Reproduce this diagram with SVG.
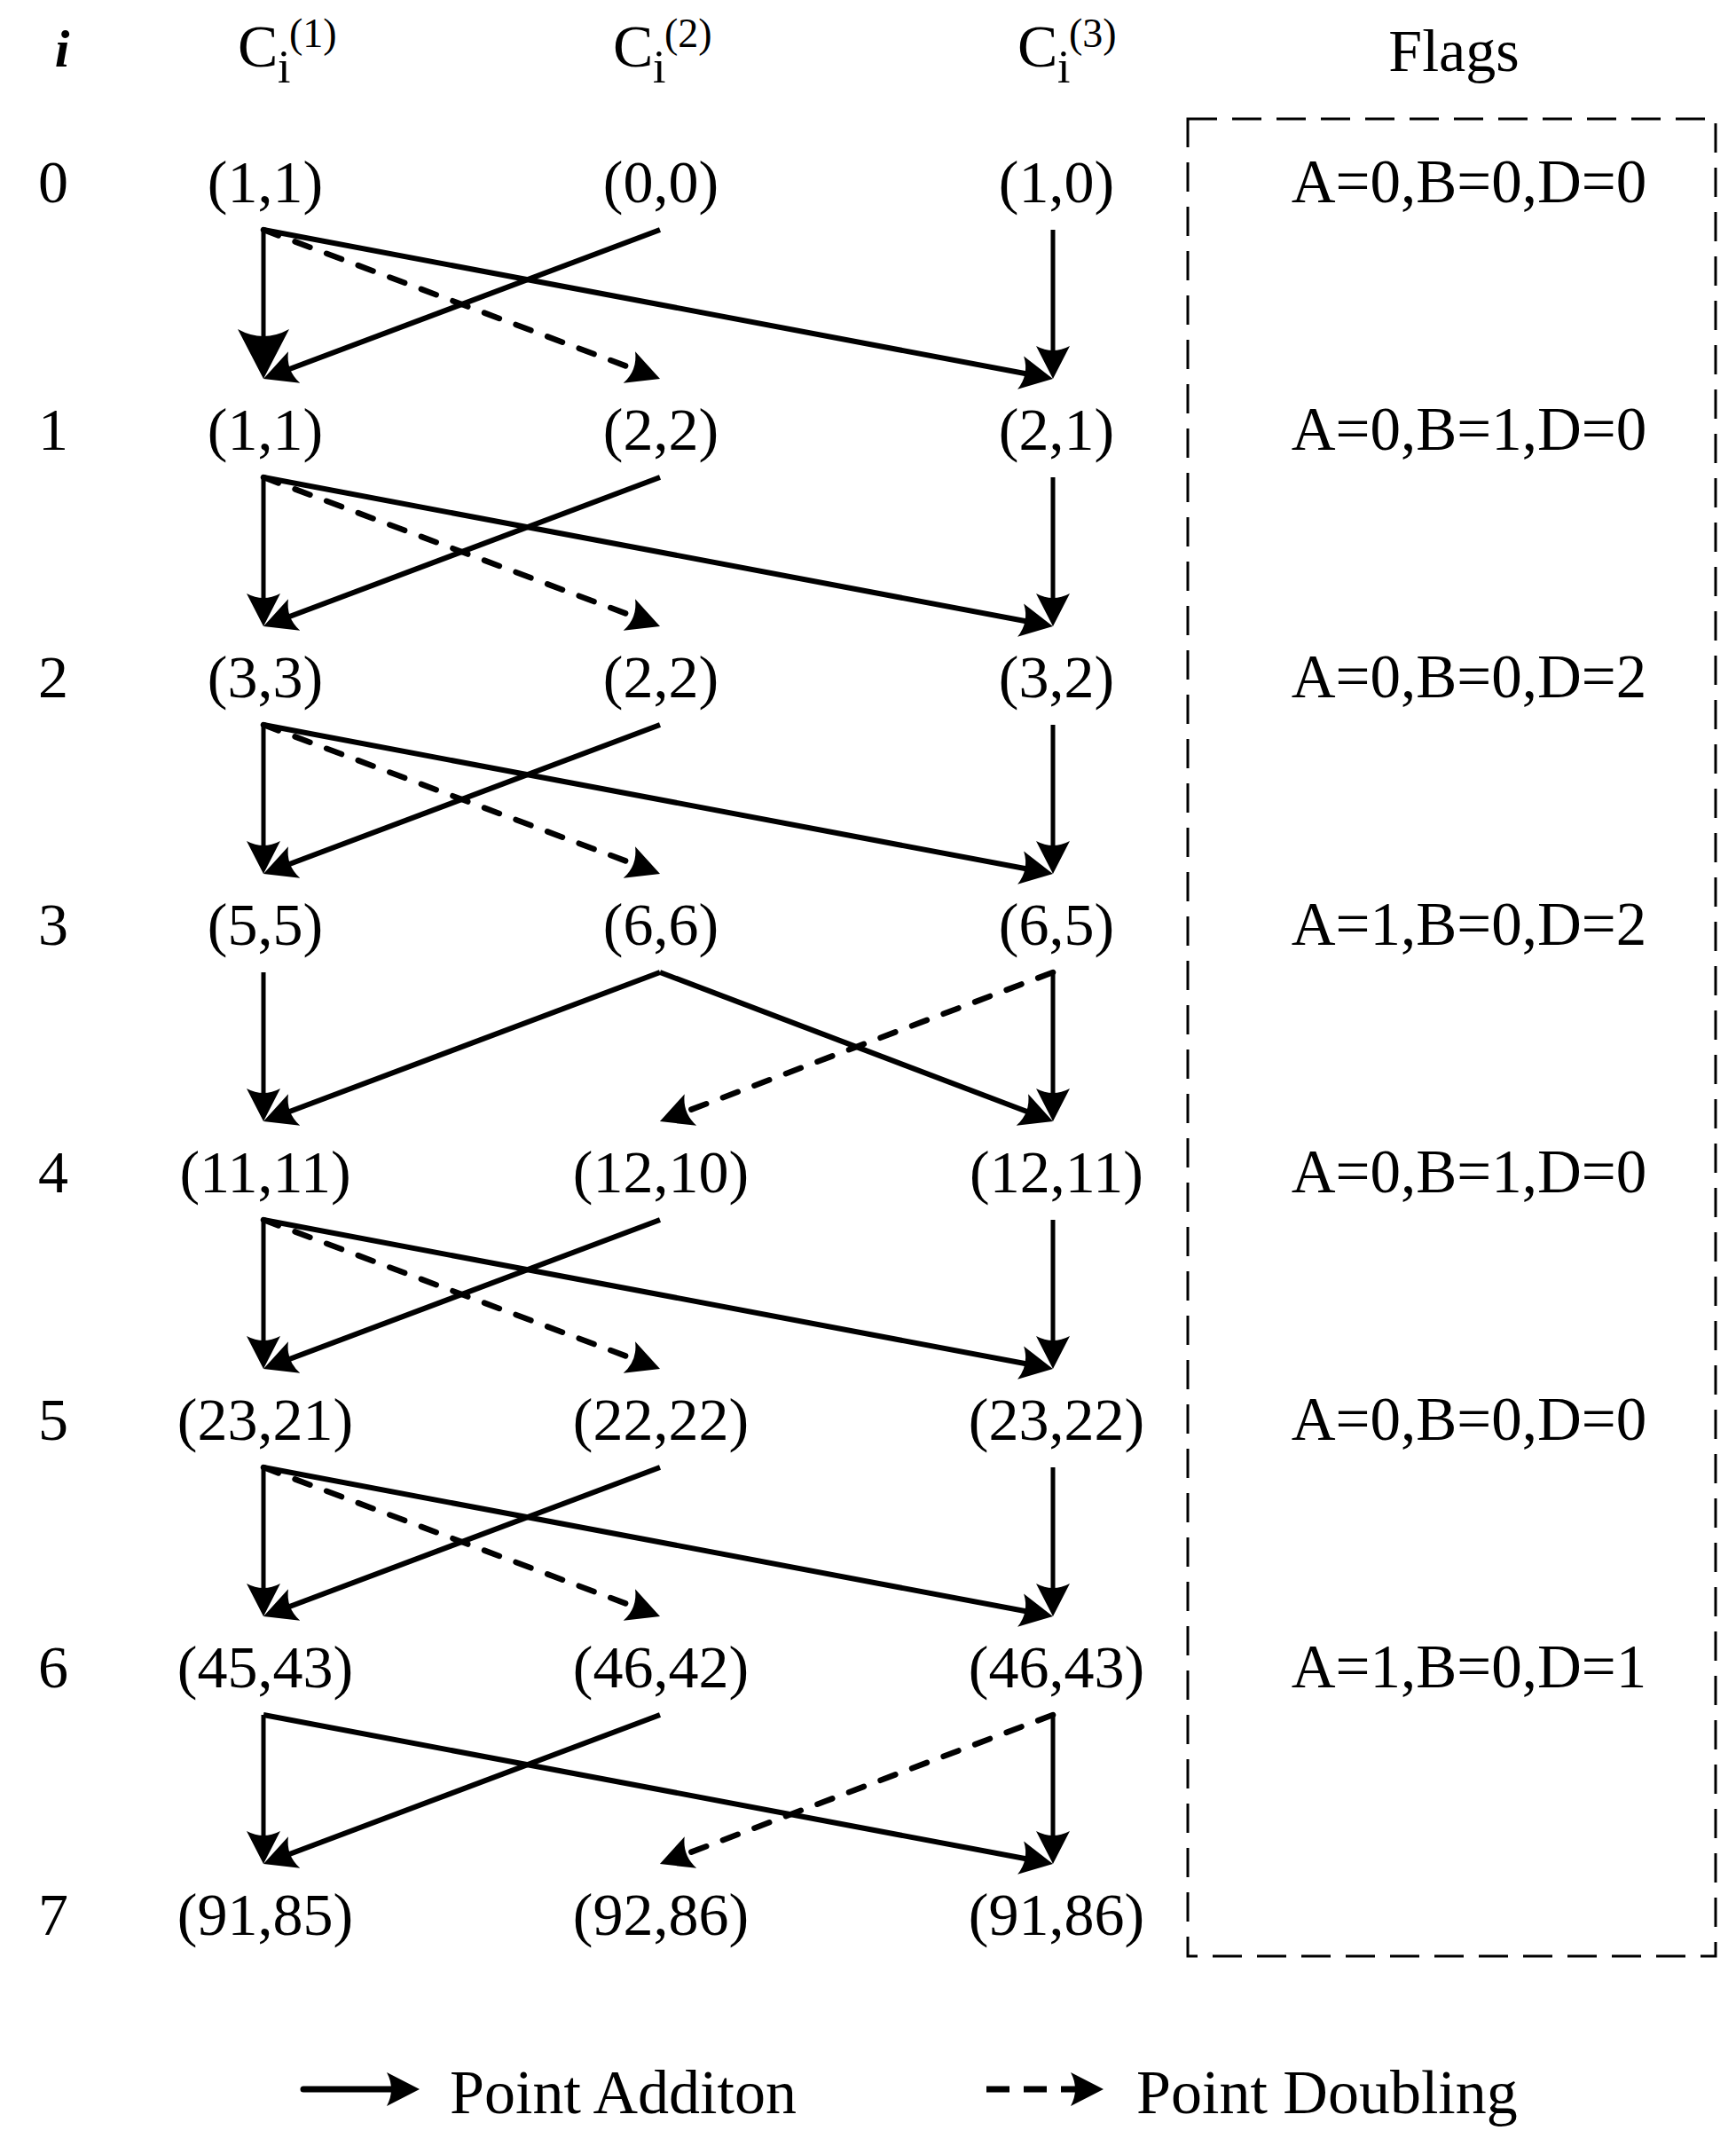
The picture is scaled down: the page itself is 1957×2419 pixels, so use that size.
<svg xmlns="http://www.w3.org/2000/svg" width="1957" height="2419" viewBox="0 0 1957 2419">
<style>
  text { font-family: "Liberation Serif", "Times New Roman", serif; fill: #000; }
  .nd { font-size: 68px; text-anchor: middle; }
  .fl { font-size: 69px; text-anchor: middle; }
  .hd { font-size: 68px; }
  .sub { font-size: 52px; }
  .sup { font-size: 46px; }
  .lg { font-size: 70px; }
  .sol { stroke: #000; stroke-width: 6; fill: none; marker-end: url(#ah); }
  .ver { stroke: #000; stroke-width: 5; fill: none; marker-end: url(#ah); }
  .dsh { stroke: #000; stroke-width: 6.5; fill: none; stroke-dasharray: 18 20; stroke-linecap: round; marker-end: url(#ah); }
  .box { stroke: #000; stroke-width: 3; fill: none; stroke-dasharray: 33 17; }
</style>
<defs>
  <marker id="ah" markerUnits="userSpaceOnUse" orient="auto" refX="0" refY="0" markerWidth="80" markerHeight="80" overflow="visible">
    <path d="M20,0 L-17,-19 Q-7,0 -17,19 Z" fill="#000"/>
  </marker>
  <marker id="ahb" markerUnits="userSpaceOnUse" orient="auto" refX="0" refY="0" markerWidth="120" markerHeight="120" overflow="visible">
    <path d="M20,0 L-36,-29 Q-20,0 -36,29 Z" fill="#000"/>
  </marker>
</defs>
<rect width="1957" height="2419" fill="#fff"/>

<g id="header">
  <text x="70" y="75" font-size="60" font-style="italic" font-weight="bold" text-anchor="middle">i</text>
  <g id="h1"><text class="hd" x="268" y="75">C</text><text class="sub" x="313" y="93">i</text><text class="sup" x="326" y="53">(1)</text></g>
  <g id="h2"><text class="hd" x="691" y="75">C</text><text class="sub" x="736" y="93">i</text><text class="sup" x="749" y="53">(2)</text></g>
  <g id="h3"><text class="hd" x="1147" y="75">C</text><text class="sub" x="1192" y="93">i</text><text class="sup" x="1205" y="53">(3)</text></g>
  <text class="hd" x="1639" y="80" text-anchor="middle">Flags</text>
</g>

<g id="rowlabels">
  <text class="nd" x="60" y="228">0</text>
  <text class="nd" x="60" y="507">1</text>
  <text class="nd" x="60" y="786">2</text>
  <text class="nd" x="60" y="1065">3</text>
  <text class="nd" x="60" y="1344">4</text>
  <text class="nd" x="60" y="1623">5</text>
  <text class="nd" x="60" y="1902">6</text>
  <text class="nd" x="60" y="2181">7</text>
</g>

<g id="n0-1"><text class="nd" x="299" y="228">(1,1)</text></g>
<g id="n0-2"><text class="nd" x="745" y="228">(0,0)</text></g>
<g id="n0-3"><text class="nd" x="1191" y="228">(1,0)</text></g>
<g id="n1-1"><text class="nd" x="299" y="507">(1,1)</text></g>
<g id="n1-2"><text class="nd" x="745" y="507">(2,2)</text></g>
<g id="n1-3"><text class="nd" x="1191" y="507">(2,1)</text></g>
<g id="n2-1"><text class="nd" x="299" y="786">(3,3)</text></g>
<g id="n2-2"><text class="nd" x="745" y="786">(2,2)</text></g>
<g id="n2-3"><text class="nd" x="1191" y="786">(3,2)</text></g>
<g id="n3-1"><text class="nd" x="299" y="1065">(5,5)</text></g>
<g id="n3-2"><text class="nd" x="745" y="1065">(6,6)</text></g>
<g id="n3-3"><text class="nd" x="1191" y="1065">(6,5)</text></g>
<g id="n4-1"><text class="nd" x="299" y="1344">(11,11)</text></g>
<g id="n4-2"><text class="nd" x="745" y="1344">(12,10)</text></g>
<g id="n4-3"><text class="nd" x="1191" y="1344">(12,11)</text></g>
<g id="n5-1"><text class="nd" x="299" y="1623">(23,21)</text></g>
<g id="n5-2"><text class="nd" x="745" y="1623">(22,22)</text></g>
<g id="n5-3"><text class="nd" x="1191" y="1623">(23,22)</text></g>
<g id="n6-1"><text class="nd" x="299" y="1902">(45,43)</text></g>
<g id="n6-2"><text class="nd" x="745" y="1902">(46,42)</text></g>
<g id="n6-3"><text class="nd" x="1191" y="1902">(46,43)</text></g>
<g id="n7-1"><text class="nd" x="299" y="2181">(91,85)</text></g>
<g id="n7-2"><text class="nd" x="745" y="2181">(92,86)</text></g>
<g id="n7-3"><text class="nd" x="1191" y="2181">(91,86)</text></g>

<g id="flags">
  <rect class="box" x="1339" y="134" width="595" height="2071"/>
  <text class="fl" x="1656" y="228">A=0,B=0,D=0</text>
  <text class="fl" x="1656" y="507">A=0,B=1,D=0</text>
  <text class="fl" x="1656" y="786">A=0,B=0,D=2</text>
  <text class="fl" x="1656" y="1065">A=1,B=0,D=2</text>
  <text class="fl" x="1656" y="1344">A=0,B=1,D=0</text>
  <text class="fl" x="1656" y="1623">A=0,B=0,D=0</text>
  <text class="fl" x="1656" y="1902">A=1,B=0,D=1</text>
</g>

<g id="connectors">
  <!-- 0 -> 1 -->
  <path class="ver" d="M297,259 V407" style="marker-end:url(#ahb)"/>
  <path class="sol" d="M744,259 L315.7,420"/>
  <path class="dsh" d="M297,259 L725.3,420"/>
  <path class="sol" d="M297,259 L1167.3,423.3"/>
  <path class="ver" d="M1187,259 V407"/>
  <!-- 1 -> 2 -->
  <path class="ver" d="M297,538 V686"/>
  <path class="sol" d="M744,538 L315.7,699"/>
  <path class="dsh" d="M297,538 L725.3,699"/>
  <path class="sol" d="M297,538 L1167.3,702.3"/>
  <path class="ver" d="M1187,538 V686"/>
  <!-- 2 -> 3 -->
  <path class="ver" d="M297,817 V965"/>
  <path class="sol" d="M744,817 L315.7,978"/>
  <path class="dsh" d="M297,817 L725.3,978"/>
  <path class="sol" d="M297,817 L1167.3,981.3"/>
  <path class="ver" d="M1187,817 V965"/>
  <!-- 3 -> 4 -->
  <path class="ver" d="M297,1096 V1244"/>
  <path class="sol" d="M744,1096 L315.7,1257"/>
  <path class="sol" d="M744,1096 L1168.3,1257"/>
  <path class="dsh" d="M1187,1096 L762.6,1257"/>
  <path class="ver" d="M1187,1096 V1244"/>
  <!-- 4 -> 5 -->
  <path class="ver" d="M297,1375 V1523"/>
  <path class="sol" d="M744,1375 L315.7,1536"/>
  <path class="dsh" d="M297,1375 L725.3,1536"/>
  <path class="sol" d="M297,1375 L1167.3,1539.3"/>
  <path class="ver" d="M1187,1375 V1523"/>
  <!-- 5 -> 6 -->
  <path class="ver" d="M297,1654 V1802"/>
  <path class="sol" d="M744,1654 L315.7,1815"/>
  <path class="dsh" d="M297,1654 L725.3,1815"/>
  <path class="sol" d="M297,1654 L1167.3,1818.3"/>
  <path class="ver" d="M1187,1654 V1802"/>
  <!-- 6 -> 7 -->
  <path class="ver" d="M297,1933 V2081"/>
  <path class="sol" d="M744,1933 L315.7,2094"/>
  <path class="sol" d="M297,1933 L1167.3,2097.3"/>
  <path class="dsh" d="M1187,1933 L762.6,2094"/>
  <path class="ver" d="M1187,1933 V2081"/>
</g>

<g id="legend">
  <path d="M342,2355 H453" stroke="#000" stroke-width="7" stroke-linecap="round" fill="none" marker-end="url(#ah)"/>
  <text class="lg" x="507" y="2382">Point Additon</text>
  <path d="M1112,2355 H1224" stroke="#000" stroke-width="7" stroke-dasharray="26 16" fill="none" marker-end="url(#ah)"/>
  <text class="lg" x="1281" y="2382" font-size="69">Point Doubling</text>
</g>
</svg>
